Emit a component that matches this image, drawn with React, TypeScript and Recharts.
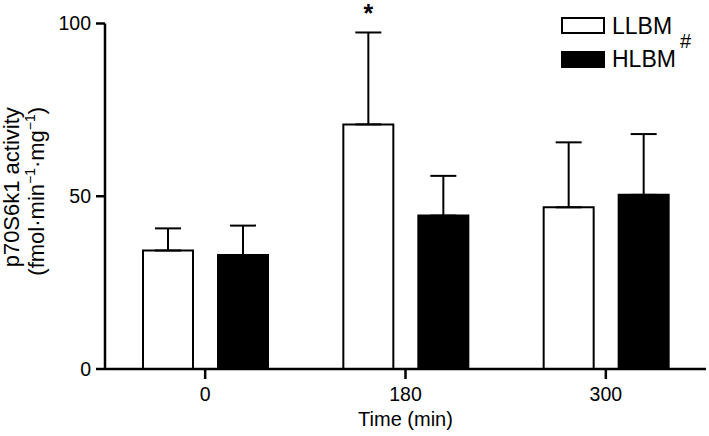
import { BarChart, Bar, XAxis, YAxis, ErrorBar, LabelList, Legend } from "recharts";

// ----- Data -----
const categories = ["0", "180", "300"];
const seriesNames = ["LLBM", "HLBM"];
const llbm = [34.3, 70.8, 46.8];
const llbmErr = [6.4, 26.6, 18.8];
const hlbm = [33.0, 44.4, 50.4];
const hlbmErr = [8.5, 11.5, 17.6];
const significance = ["", "*", ""];
const yTicks = [0, 50, 100];

const data = categories.map((time, i) => ({
  time,
  LLBM: llbm[i],
  llbmErr: [0, llbmErr[i]],
  HLBM: hlbm[i],
  hlbmErr: [0, hlbmErr[i]],
  sig: significance[i],
}));

const FONT = '"Liberation Sans", Arial, sans-serif';

// asterisk above the error bar cap
function Star(props: any) {
  const vb = props.viewBox ?? props;
  const { x, y, width, height } = vb;
  const { index, value } = props;
  if (!value) return null;
  const pxPerUnit = height / llbm[index];
  const top = y - llbmErr[index] * pxPerUnit;
  return (
    <text x={x + width / 2} y={top - 10} textAnchor="middle" fontSize={25} fontWeight="bold" fill="#000">
      {value}
    </text>
  );
}

function YTitle(props: any) {
  const vb = props.viewBox ?? { x: 0, y: 23.5, width: 105, height: 346 };
  const cy = vb.y + vb.height / 2 - 9;
  const cy2 = cy + 4;
  return (
    <g fontSize={22} fill="#000">
      <text x={19} y={cy} textAnchor="middle" transform={`rotate(-90, 19, ${cy})`}>
        p70S6k1 activity
      </text>
      <text x={44} y={cy2} textAnchor="middle" transform={`rotate(-90, 44, ${cy2})`}>
        (fmol·min
        <tspan dy={-9} fontSize={14}>−1</tspan>
        <tspan dy={9}>·mg</tspan>
        <tspan dy={-9} fontSize={14}>−1</tspan>
        <tspan dy={9}>)</tspan>
      </text>
    </g>
  );
}

function LegendBox({ payload }: any) {
  const entries = seriesNames
    .map((name) => (payload ?? []).find((p: any) => p.value === name))
    .filter(Boolean);
  return (
    <svg width={150} height={70} style={{ fontFamily: FONT }}>
      {entries.map((entry: any, i: number) => (
        <g key={entry.value}>
          <rect x={7} y={8 + i * 34} width={42} height={15} fill={entry.color} stroke="#000" strokeWidth={2} />
          <text x={57} y={24 + i * 33} fontSize={23} fill="#000">
            {entry.value}
          </text>
        </g>
      ))}
      <text x={125} y={38} fontSize={20} fill="#000">#</text>
    </svg>
  );
}

export default function App() {
  return (
    <div style={{ position: "absolute", left: 0, top: 0, width: 709, height: 436, background: "#fff", fontFamily: FONT }}>
      <BarChart
        width={709}
        height={436}
        data={data}
        margin={{ top: 23.5, right: 3, left: 0, bottom: 0 }}
        barSize={50}
        barGap={25}
      >
        <XAxis
          dataKey="time"
          height={67}
          tickSize={10}
          tickMargin={8}
          axisLine={{ stroke: "#000", strokeWidth: 2.5 }}
          tickLine={{ stroke: "#000", strokeWidth: 2.5 }}
          tick={{ fill: "#000", fontSize: 19.5 }}
          label={{ value: "Time (min)", position: "insideBottom", offset: 10, fill: "#000", fontSize: 20 }}
        />
        <YAxis
          width={105}
          domain={[0, 100]}
          ticks={yTicks}
          tickSize={9}
          tickMargin={5}
          axisLine={{ stroke: "#000", strokeWidth: 2.5 }}
          tickLine={{ stroke: "#000", strokeWidth: 2.5 }}
          tick={{ fill: "#000", fontSize: 19.5 }}
          label={<YTitle />}
        />
        <Legend
          layout="vertical"
          align="center"
          verticalAlign="middle"
          content={<LegendBox />}
          wrapperStyle={{ left: 555, top: 10, width: 150, height: 70 }}
        />
        <Bar dataKey="LLBM" fill="#ffffff" stroke="#000" strokeWidth={2} isAnimationActive={false}>
          <ErrorBar dataKey="llbmErr" width={13} stroke="#000" strokeWidth={2} direction="y" />
          <LabelList dataKey="sig" content={<Star />} />
        </Bar>
        <Bar dataKey="HLBM" fill="#000000" stroke="#000" strokeWidth={2} isAnimationActive={false}>
          <ErrorBar dataKey="hlbmErr" width={13} stroke="#000" strokeWidth={2} direction="y" />
        </Bar>
      </BarChart>
    </div>
  );
}
